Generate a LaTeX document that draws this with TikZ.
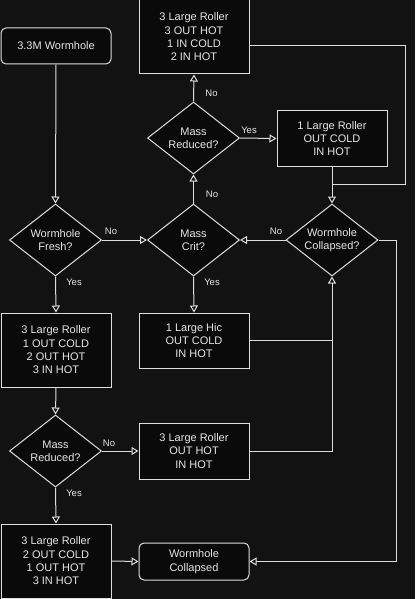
\documentclass[tikz,border=0pt]{standalone}
\usepackage{fontspec}
\setmainfont{Liberation Sans}
\usetikzlibrary{arrows.meta,shapes.geometric}
\definecolor{bg}{RGB}{18,18,18}
\definecolor{nodefill}{RGB}{10,10,10}
\definecolor{ln}{RGB}{222,222,222}
\definecolor{tx}{RGB}{230,230,230}
\begin{document}
\begin{tikzpicture}[x=1pt,y=-1pt,
  every node/.style={text=tx},
  box/.style={draw=ln, fill=nodefill, line width=1pt, minimum width=110pt, inner sep=0pt, align=center, font=\fontsize{11}{13.3}\selectfont},
  rbox/.style={box, rounded corners=5pt},
  dia/.style={draw=ln, fill=nodefill, line width=1pt, diamond, minimum width=92pt, minimum height=72pt, inner sep=0pt},
  dtext/.style={align=center, font=\fontsize{11}{13.3}\selectfont, inner sep=0pt},
  lab/.style={font=\fontsize{9.5}{11}\selectfont, inner sep=0pt},
  conn/.style={draw=ln, line width=1pt, -{Triangle[open,length=7pt,width=8pt]}},
  plain/.style={draw=ln, line width=1pt}]
\fill[bg] (0,0) rectangle (415,599);
\useasboundingbox (0,0) rectangle (415,599);

% nodes
\node[rbox, minimum height=36pt] (start) at (56,46) {3.3M Wormhole};
\node[box, minimum height=74pt] (top) at (194,37) {3 Large Roller\\3 OUT HOT\\1 IN COLD\\2 IN HOT};
\node[dia] (mr1) at (193.5,138) {};
\node[dtext] at (mr1.center) {Mass\\Reduced?};
\node[box, minimum height=55pt] (lr1) at (332,138.5) {1 Large Roller\\OUT COLD\\IN HOT};
\node[dia] (fresh) at (55.5,240) {};
\node[dtext] at (fresh.center) {Wormhole\\Fresh?};
\node[dia] (crit) at (193.5,240) {};
\node[dtext] at (crit.center) {Mass\\Crit?};
\node[dia] (coll) at (332,240) {};
\node[dtext] at (coll.center) {Wormhole\\Collapsed?};
\node[box, minimum height=74pt] (box1) at (56,350) {3 Large Roller\\1 OUT COLD\\2 OUT HOT\\3 IN HOT};
\node[box, minimum height=55pt] (hic) at (194,340.5) {1 Large Hic\\OUT COLD\\IN HOT};
\node[dia] (mr2) at (55.5,451) {};
\node[dtext] at (mr2.center) {Mass\\Reduced?};
\node[box, minimum height=56pt] (lr3) at (194,451) {3 Large Roller\\OUT HOT\\IN HOT};
\node[box, minimum height=74pt] (box4) at (56,561) {3 Large Roller\\2 OUT COLD\\1 OUT HOT\\3 IN HOT};
\node[rbox, minimum height=37pt] (wc) at (194,561.5) {Wormhole\\Collapsed};

% corner coordinates
\coordinate (c1) at (405,46);
\coordinate (c2) at (405,184);
\coordinate (c3) at (332,184);
\coordinate (c4) at (396,240);
\coordinate (c5) at (396,561.5);
\coordinate (c6) at (332,340.5);
\coordinate (c7) at (332,451);

% connectors
\draw[conn] (start.south) -- (fresh.north);
\draw[conn] (fresh.east) -- (crit.west);
\draw[conn] (fresh.south) -- (box1.north);
\draw[conn] (crit.north) -- (mr1.south);
\draw[conn] (crit.south) -- (hic.north);
\draw[conn] (mr1.north) -- (top.south);
\draw[conn] (mr1.east) -- (lr1.west);
\draw[conn] (lr1.south) -- (coll.north);
\draw[plain] (top.east |- c1) -- (c1) -- (c2) -- (c3);
\draw[conn] (coll.west) -- (crit.east);
\draw[conn] (coll.east) -- (c4) -- (c5) -- (wc.east);
\draw[plain] (hic.east) -- (c6);
\draw[conn] (lr3.east) -- (c7) -- (coll.south);
\draw[conn] (box1.south) -- (mr2.north);
\draw[conn] (mr2.east) -- (lr3.west);
\draw[conn] (mr2.south) -- (box4.north);
\draw[conn] (box4.east) -- (wc.west);

% labels
\node[lab] at (211.5,93) {No};
\node[lab] at (249,130) {Yes};
\node[lab] at (212,194) {No};
\node[lab] at (111,231) {No};
\node[lab] at (74,282) {Yes};
\node[lab] at (212,282) {Yes};
\node[lab] at (276,231) {No};
\node[lab] at (109,443) {No};
\node[lab] at (74,493) {Yes};
\end{tikzpicture}
\end{document}
